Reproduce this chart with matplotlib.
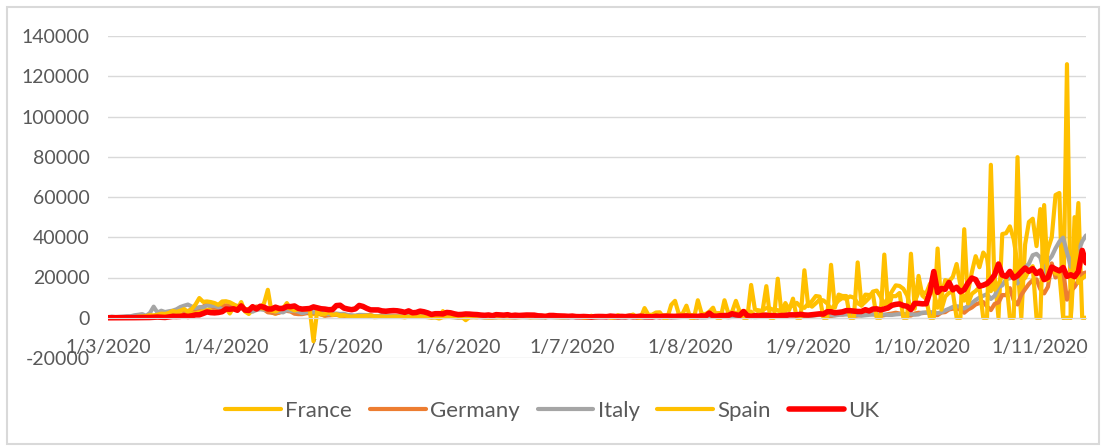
import numpy as np
import pandas as pd
import matplotlib
matplotlib.use('Agg')
import matplotlib.pyplot as plt
from matplotlib.patches import Rectangle

plt.rcParams['font.family'] = ['Lato', 'DejaVu Sans']

# daily new cases, 1 Mar 2020 .. 13 Nov 2020
dates = pd.date_range('2020-03-01', '2020-11-13', freq='D')

france = (
    # Mar
    [30, 40, 60, 70, 100, 110, 190, 100, 280, 370, 500, 600, 780, 810, 840, 920,
     1100, 1400, 1600, 1620, 1850, 1560, 3840, 2450, 2930, 3920, 3810, 4610, 2600, 4380, 7580]
    # Apr
    + [4860, 2120, 5230, 4290, 7790, 3110, 1870, 3910, 4290, 4790, 7120, 13900, 2670, 2000, 2800,
       4600, 7300, 4000, 5200, 2600, 2500, 2700, 2000, 1800, 2000, 1600, 1000, 3000, 1600, 1600]
    # May
    + [800, 1000, 600, 500, 800, 1000, 1100, 1200, 600, 300, 400, 800, 1100, 900, 600, 700,
       400, 300, 500, 500, 600, 700, 500, 300, 100, 300, 600, 3300, 1000, 800, 400]
    # Jun
    + [300, 300, 600, 500, 700, 600, 400, 300, 200, 300, 500, 400, 500, 500, 400,
       400, 400, 400, 500, 300, 500, 600, 400, 1000, 600, 500, 600, 700, 500, 400]
    # Jul
    + [500, 600, 600, 500, 400, 400, 500, 400, 700, 600, 800, 600, 500, 400, 500, 600,
       1000, 700, 1100, 800, 600, 700, 1000, 1100, 1100, 1300, 1000, 700, 1400, 1300, 1400]
    # Aug
    + [1300, 1200, 800, 1000, 1600, 1700, 1600, 2300, 2300, 1300, 1600, 2500, 2500, 2700, 3300, 2900,
       3000, 1000, 2200, 3800, 4800, 4600, 3800, 3800, 1900, 3300, 5400, 6100, 7400, 5500, 4900]
    # Sep
    + [7000, 5500, 7200, 9000, 8600, 7100, 4200, 6500, 8600, 9800, 9400, 10600, 10000, 7200, 6200,
       7900, 9800, 13000, 13500, 10600, 6600, 10000, 13000, 16100, 15800, 14400, 11100, 4100, 8100, 12800]
    # Oct
    + [12800, 12100, 16900, 12600, 5000, 10500, 18700, 18100, 20300, 26700, 16100, 8500, 12900, 22600, 30600, 25100,
       32400, 29800, 13200, 20500, 0, 41600, 42000, 45400, 39000, 26800, 0, 36400, 47600, 49200, 35600]
    # Nov
    + [54000, 20000, 34000, 40000, 61000, 62000, 0, 126000, 0, 30000, 57000, 0, 0]
)

germany = (
    [20, 30, 50, 80, 100, 180, 120, 160, 240, 410, 300, 690, 780, 900, 1040, 1170,
     1040, 2270, 3000, 4500, 3200, 3300, 4200, 4300, 4900, 5500, 6900, 6300, 4500, 4100, 4900]
    + [6200, 6200, 6100, 5900, 4900, 3700, 3800, 4000, 5600, 5000, 4100, 2700, 2500, 2100, 2500,
       3300, 3400, 3100, 2000, 1800, 1800, 2200, 2500, 2300, 2100, 1700, 1000, 1200, 1300, 1600]
    + [1600, 1100, 800, 700, 700, 1200, 1300, 1200, 1300, 700, 700, 900, 800, 900, 1000, 600,
       600, 600, 500, 700, 800, 700, 500, 600, 500, 400, 400, 700, 700, 400, 300]
    + [200, 200, 300, 300, 400, 300, 400, 300, 300, 200, 300, 600, 600, 400, 300,
       200, 400, 600, 700, 800, 700, 500, 600, 500, 600, 500, 500, 300, 300, 300]
    + [500, 500, 400, 400, 300, 200, 300, 400, 400, 500, 400, 300, 200, 300, 400, 500,
       600, 500, 300, 200, 300, 600, 600, 800, 800, 300, 300, 600, 900, 900, 900]
    + [900, 200, 200, 900, 900, 1000, 1100, 1100, 600, 400, 900, 1200, 1400, 1400, 1400, 600,
       600, 1400, 1500, 1700, 1600, 1400, 800, 700, 1500, 1500, 1600, 1600, 1500, 600, 600]
    + [1200, 1300, 1300, 1500, 1400, 900, 800, 1300, 1800, 1600, 2000, 1700, 900, 1100, 1300,
       2000, 2000, 1800, 1400, 900, 1300, 1800, 2100, 2500, 2100, 1800, 1200, 1100, 2100, 2500]
    + [2300, 2600, 2600, 1400, 1300, 2600, 2800, 4100, 4500, 4300, 4200, 2500, 4100, 5100, 6600, 7300,
       7800, 5600, 3800, 6900, 7600, 11300, 11200, 14700, 8700, 6600, 11400, 14200, 16800, 18700, 19100]
    + [14200, 12100, 15400, 27000, 20000, 21500, 23400, 9000, 13400, 15300, 18500, 21900, 22500]
)

italy = (
    [240, 560, 350, 470, 590, 770, 780, 1250, 1490, 1800, 980, 2310, 5500, 2550, 3500, 2820,
     3230, 3530, 4210, 5320, 5990, 6560, 5560, 4790, 5250, 5210, 6150, 5960, 5970, 5220, 4050]
    + [4050, 4780, 4670, 4590, 4810, 4320, 3600, 3040, 3840, 4200, 3950, 4690, 4090, 3150, 2970,
       2670, 3790, 3490, 3490, 3050, 2260, 2730, 3370, 2650, 3020, 2360, 2320, 1740, 2090, 2090]
    + [1870, 1970, 1390, 1220, 1080, 1440, 1400, 1330, 1080, 800, 740, 1400, 890, 990, 790, 880,
       680, 450, 810, 670, 640, 650, 670, 530, 300, 400, 580, 520, 420, 420, 350]
    + [180, 320, 180, 420, 520, 520, 270, 200, 280, 280, 200, 380, 160, 350, 300,
       210, 330, 330, 250, 260, 260, 220, 120, 190, 300, 260, 180, 170, 130, 190]
    + [180, 200, 220, 240, 190, 210, 140, 190, 230, 280, 190, 230, 170, 110, 140, 230,
       230, 250, 220, 130, 190, 280, 310, 290, 250, 250, 170, 210, 290, 390, 380]
    + [300, 380, 240, 160, 190, 380, 400, 550, 350, 460, 260, 410, 480, 520, 560, 630,
       480, 320, 400, 640, 850, 950, 1070, 1210, 950, 880, 1370, 1460, 1440, 1440, 1370]
    + [990, 980, 1330, 1400, 1700, 1690, 1300, 1110, 1430, 1600, 1600, 1620, 1640, 1460, 1010,
       1230, 1450, 1590, 1640, 1630, 1580, 1390, 1390, 1640, 1790, 1870, 1770, 1770, 1490, 1650]
    + [2550, 2500, 2840, 2580, 2260, 2680, 3680, 4460, 5370, 5720, 5460, 4620, 5900, 7330, 8800, 10010,
       10930, 11710, 9340, 10870, 15200, 16080, 19140, 19640, 21270, 17010, 21990, 24990, 26830, 31080, 31760]
    + [29910, 22250, 28240, 30550, 34510, 37810, 39810, 32620, 25270, 35100, 32960, 37980, 40900]
)

spain = (
    [0, 20, 30, 50, 50, 100, 130, 120, 570, 600, 800, 1300, 1200, 1500, 2000, 1900,
     2400, 3400, 2900, 3500, 4300, 3000, 4300, 6600, 9800, 7900, 8100, 7800, 7300, 6400, 8100]
    + [8200, 7700, 6700, 5500, 6000, 4300, 4300, 5500, 5000, 4800, 4600, 4200, 3500, 3100, 4000,
       5100, 5200, 4500, 3600, 4200, 4300, 3900, 4600, -11700, 4000, 1700, 1800, 2800, 1400, 1800]
    + [1200, 1300, 800, 500, 800, 800, 900, 1000, 1100, 700, 600, 600, 400, 500, 600, 600,
       500, 300, 500, 500, 500, 700, 500, 400, 300, 200, -400, 300, 400, 700, 600]
    + [300, 400, -1200, 300, 300, 300, 500, 300, 200, 300, 300, 200, 300, 200, 300,
       400, 300, 400, 400, 300, 300, 300, 400, 300, 500, 400, 300, 300, 300, 400]
    + [400, 500, 600, 0, 0, 1000, 300, 400, 600, 900, 0, 0, 1300, 600, 800, 1000,
       1600, 0, 0, 4800, 1400, 1500, 2600, 2700, 0, 0, 6400, 8400, 1800, 2000, 6000]
    + [0, 0, 8700, 2000, 1800, 3000, 5000, 0, 0, 8700, 2200, 2900, 8400, 3000, 0, 0,
       16300, 4000, 3700, 3300, 15700, 0, 0, 19400, 2000, 7300, 3800, 9500, 0, 0, 23600]
    + [5800, 8300, 10800, 10500, 0, 0, 26300, 5000, 11500, 10800, 10800, 0, 0, 27500, 6000,
       11500, 11300, 11900, 0, 0, 31400, 4500, 10800, 10700, 12300, 0, 0, 31800, 4500, 20800]
    + [11000, 9400, 0, 0, 34400, 4000, 10500, 12400, 12800, 0, 0, 44000, 7100, 11900, 13300, 15200,
       0, 0, 76000, 13900, 16900, 20900, 19900, 0, 0, 79800, 18400, 19800, 23600, 25600, 0]
    + [0, 56000, 18600, 25000, 21900, 22000, 0, 0, 0, 50000, 17400, 19500, 21000]
)

uk = (
    [0, 0, 0, 10, 30, 50, 40, 50, 70, 50, 80, 130, 210, 340, 250, 150,
     400, 680, 640, 700, 1000, 660, 970, 1430, 1450, 2130, 2890, 2550, 2430, 2620, 3010]
    + [4320, 4240, 4450, 3740, 5900, 3800, 3630, 5490, 4340, 5710, 5230, 4340, 4340, 5250, 4600,
       4620, 5600, 5530, 5850, 4680, 4300, 4450, 4580, 5390, 4910, 4460, 4310, 3990, 4080, 6030]
    + [6200, 4810, 4340, 3990, 4410, 6110, 5610, 4650, 3900, 3880, 3880, 3400, 3240, 3450, 3560, 3450,
       3130, 2680, 3410, 2470, 2620, 3290, 2960, 2410, 1630, 2000, 2010, 1890, 2620, 2450, 1940]
    + [1570, 1650, 1870, 1810, 1650, 1560, 1330, 1200, 1390, 1000, 1540, 1430, 1280, 1510, 1060,
       1280, 1120, 1220, 1350, 1350, 1300, 960, 880, 650, 1120, 1120, 940, 900, 820, 690]
    + [830, 580, 540, 620, 520, 350, 580, 630, 610, 510, 820, 650, 530, 670, 540, 790,
       540, 600, 770, 580, 500, 440, 770, 580, 760, 770, 690, 690, 760, 850, 880]
    + [750, 740, 670, 940, 760, 2300, 870, 760, 1060, 1070, 1150, 2000, 1440, 1150, 3100, 1040,
       710, 1040, 820, 1180, 1180, 1030, 1040, 850, 1110, 1110, 1420, 1400, 1450, 1710, 1400]
    + [1300, 1500, 1740, 1940, 1810, 2990, 2950, 2460, 2660, 2920, 3540, 3500, 3330, 3110, 3100,
       3990, 3400, 4320, 4420, 3900, 4370, 4930, 6180, 6630, 6870, 6040, 5690, 4040, 7140, 7110]
    + [6910, 6970, 12870, 22960, 12590, 14540, 14160, 17540, 13860, 15170, 12870, 13970, 17230, 19720, 18980, 15650,
       16170, 16980, 18800, 21330, 26690, 21240, 20530, 23010, 19790, 20890, 22890, 24700, 23070, 24400, 21920]
    + [23250, 18950, 20020, 25180, 24140, 23290, 24960, 20570, 21350, 20410, 22950, 33470, 27300]
)

series_names = ['France', 'Germany', 'Italy', 'Spain', 'UK']
series_colors = ['#FFC000', '#ED7D31', '#A5A5A5', '#FFC000', '#FF0000']
series_widths = [3.0, 3.0, 3.0, 3.0, 4.0]

month_ticks = pd.date_range('2020-03-01', '2020-11-01', freq='MS')
month_labels = ['1/3/2020', '1/4/2020', '1/5/2020', '1/6/2020', '1/7/2020',
                '1/8/2020', '1/9/2020', '1/10/2020', '1/11/2020']
y_ticks = list(range(-20000, 140001, 20000))

W, H = 1105, 447
fig = plt.figure(figsize=(W / 100, H / 100), dpi=100)
fig.patches.append(Rectangle((7 / W, 3 / H), 1092 / W, 437 / H, transform=fig.transFigure,
                             fill=False, edgecolor='#D9D9D9', linewidth=1.5))

ax = fig.add_axes([108 / W, 1 - 358 / H, (1086 - 108) / W, (358 - 36) / H])
grid_c = '#D9D9D9'
text_c = '#595959'

for vals, name, c, lw in zip([france, germany, italy, spain, uk], series_names, series_colors, series_widths):
    ax.plot(dates, vals, color=c, lw=lw, label=name, solid_joinstyle='round', solid_capstyle='round')

ax.set_ylim(-20000, 140000)
ax.set_xlim(dates[0], dates[-1])
ax.set_yticks(y_ticks)
ax.set_yticklabels([str(v) for v in y_ticks])
ax.yaxis.grid(True, color=grid_c, lw=1)
ax.set_axisbelow(True)
ax.set_xticks(month_ticks)
ax.set_xticklabels(month_labels)
for s in ['top', 'right', 'left']:
    ax.spines[s].set_visible(False)
ax.spines['bottom'].set_position(('data', 0))
ax.spines['bottom'].set_color(grid_c)
ax.tick_params(axis='x', length=0, pad=15, labelsize=14, labelcolor=text_c)
ax.tick_params(axis='y', length=0, pad=13, labelsize=14, labelcolor=text_c)

fig.legend(loc='center', bbox_to_anchor=(0.5, 1 - 411 / H), ncol=5, frameon=False,
           fontsize=16, labelcolor=text_c, handlelength=2.5, handletextpad=0.2,
           columnspacing=0.8)

fig.savefig('out.png', dpi=100)
